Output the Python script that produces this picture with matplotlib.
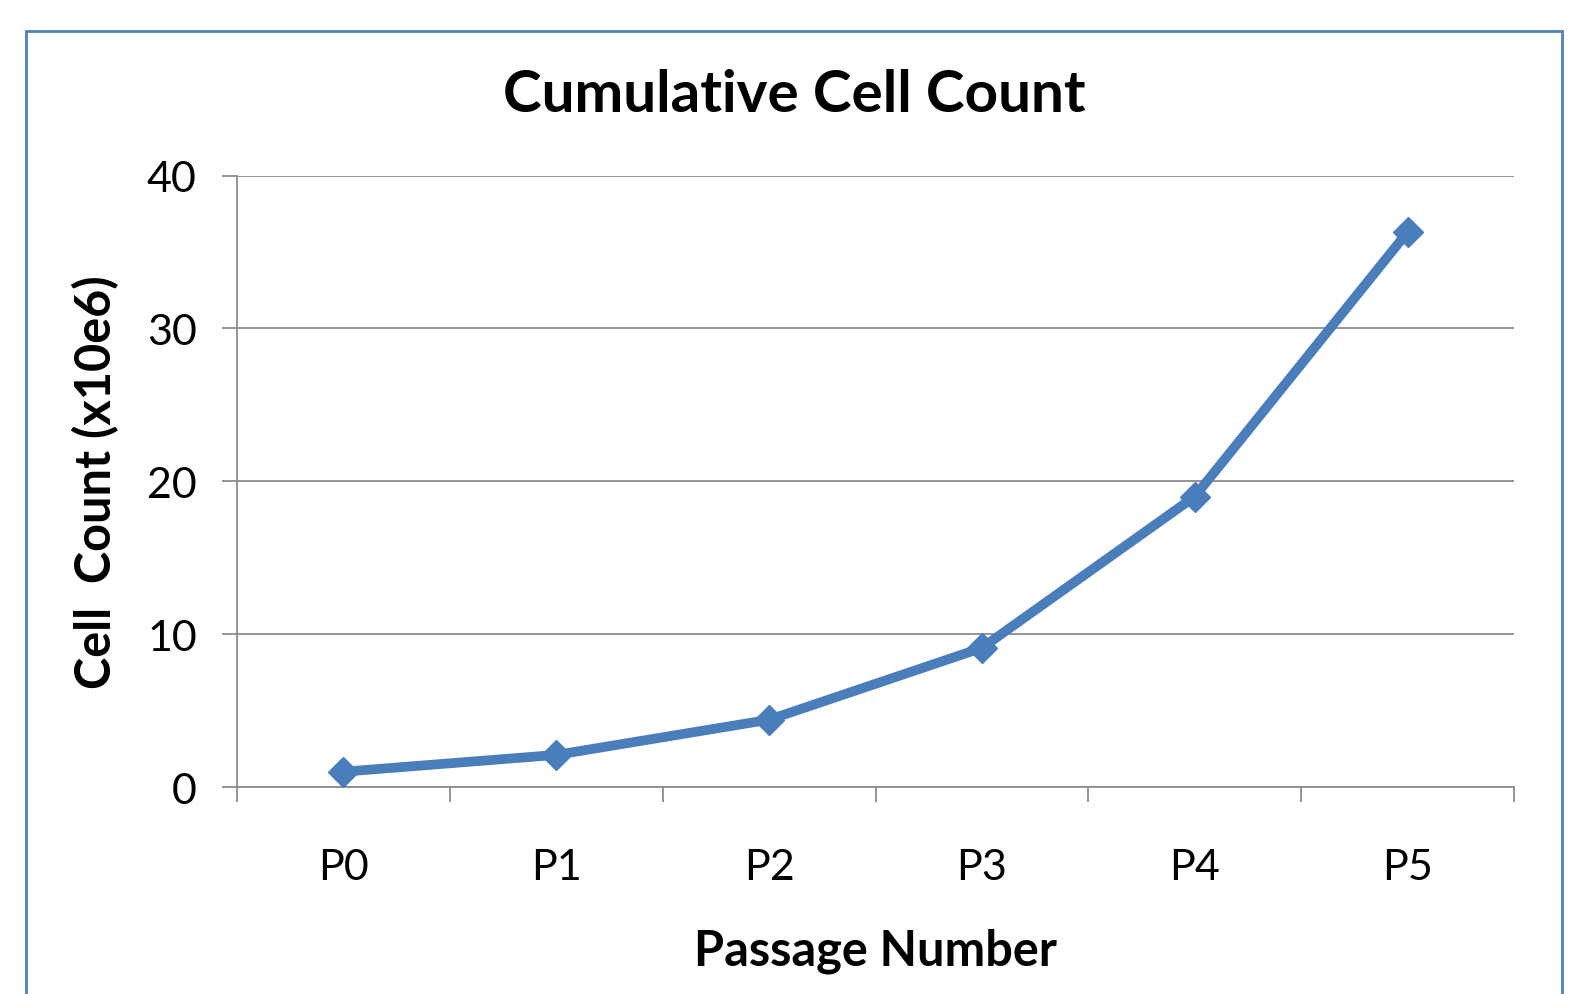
import matplotlib.pyplot as plt
from matplotlib.patches import Rectangle

# data
passages = ["P0", "P1", "P2", "P3", "P4", "P5"]
cell_count = [1.0, 2.1, 4.4, 9.1, 19.0, 36.3]   # x10e6
y_ticks = [0, 10, 20, 30, 40]

plt.rcParams["font.family"] = ["Lato", "DejaVu Sans"]

W, H = 1575, 995
fig = plt.figure(figsize=(W / 100, H / 100), dpi=100)
ax = fig.add_axes([237 / W, 1 - 788 / H, (1514 - 237) / W, (788 - 176.5) / H])

grey = "#8c8c8c"
blue = "#4a7ebb"

x = list(range(len(passages)))
ax.plot(x, cell_count, color=blue, lw=7, marker="D", ms=15,
        solid_capstyle="butt", zorder=3)

ax.set_xlim(-0.5, len(passages) - 0.5)
ax.set_ylim(0, 40)
ax.set_yticks(y_ticks)
ax.grid(axis="y", color=grey, lw=1.3)
ax.set_axisbelow(True)

# category boundaries get the tick marks, centers get the labels
ax.set_xticks([i - 0.5 for i in range(len(passages) + 1)])
ax.set_xticklabels([])
ax.set_xticks(x, minor=True)
ax.set_xticklabels(passages, minor=True)
ax.tick_params(axis="x", which="major", length=11, width=1.3, color=grey, direction="out")
ax.tick_params(axis="x", which="minor", length=0, pad=44, labelsize=31)
ax.tick_params(axis="y", length=11, width=1.3, color=grey, pad=18, labelsize=31)

for s in ["top", "right"]:
    ax.spines[s].set_visible(False)
for s in ["left", "bottom"]:
    ax.spines[s].set_color(grey)
    ax.spines[s].set_linewidth(1.3)

ax.set_xlabel("Passage Number", fontsize=35, fontweight="bold", labelpad=30)
ax.set_ylabel("Cell  Count (x10e6)", fontsize=35, fontweight="bold", labelpad=20)

fig.text(794 / W, 1 - 96 / H, "Cumulative Cell Count", fontsize=42,
         fontweight="bold", ha="center", va="center")

# chart area border (runs past the bottom of the image)
fig.patches.append(Rectangle((26 / W, -0.05), (1562 - 26) / W, 1.05 - 32 / H,
                             transform=fig.transFigure, fill=False,
                             edgecolor="#4f81bd", lw=2))

fig.savefig("out.png", dpi=100)
